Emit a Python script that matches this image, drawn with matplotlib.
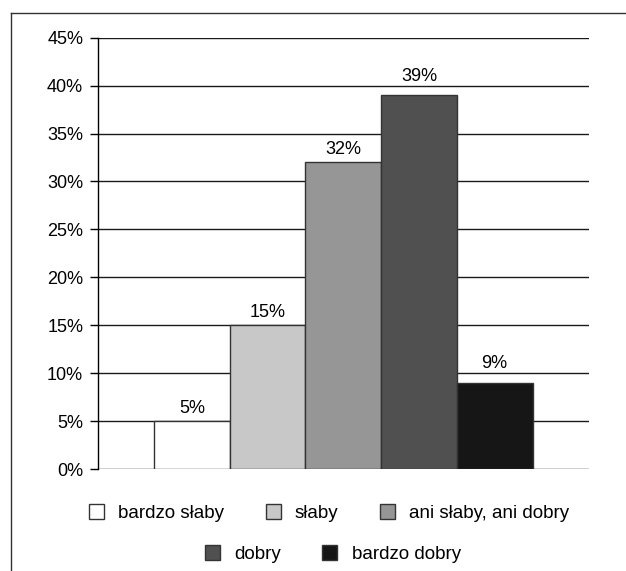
import matplotlib.pyplot as plt
from matplotlib.lines import Line2D
from matplotlib.patches import Patch

plt.rcParams['font.family'] = ['Liberation Sans', 'DejaVu Sans']

categories = ['bardzo słaby', 'słaby', 'ani słaby, ani dobry', 'dobry', 'bardzo dobry']
values = [5, 15, 32, 39, 9]
colors = ['#ffffff', '#c8c8c8', '#969696', '#505050', '#161616']
yticks = [0, 5, 10, 15, 20, 25, 30, 35, 40, 45]

W, H = 626, 571
fig = plt.figure(figsize=(W / 100, H / 100), dpi=100)
ax = fig.add_axes([97.5 / W, 1 - 469 / H, (589 - 97.5) / W, (469 - 37.7) / H])

# gridlines sit behind the bars
for t in yticks:
    ax.axhline(t, color='#1a1a1a', lw=1.0, zorder=1)

pos = list(range(len(values)))
ax.bar(pos, values, width=1.0, align='edge', color=colors,
       edgecolor='#333333', linewidth=1.0, zorder=2)

# value labels just above each bar; lift a label over a gridline it would cross
for p, v in zip(pos, values):
    y = v + 0.42
    crossed = [t for t in yticks if y + 0.3 <= t <= y + 1.7]
    if crossed:
        y = crossed[0] + 0.1
    ax.text(p + 0.5, y, f'{v}%', ha='center', va='bottom', fontsize=13)

ax.set_xlim(-0.746, 5.746)
ax.set_ylim(0, 45)
ax.set_yticks(yticks)
ax.set_yticklabels([f'{t}%' for t in yticks], fontsize=13)
ax.set_xticks([])
for s in ['top', 'right', 'bottom']:
    ax.spines[s].set_visible(False)
ax.spines['left'].set_linewidth(1.0)
ax.tick_params(axis='y', length=5.8, width=1.0, pad=4.5)

handles = [Patch(facecolor=c, edgecolor='#333333', linewidth=1.0) for c in colors]
leg_kw = dict(frameon=False, fontsize=13.5, handlelength=0.8, handleheight=0.8,
              handletextpad=0.75, columnspacing=2.2, borderaxespad=0,
              borderpad=0)
fig.legend(handles[:3], categories[:3], ncol=3, loc='center',
           bbox_to_anchor=(329 / W, 1 - 513 / H), **leg_kw)
fig.legend(handles[3:], categories[3:], ncol=2, loc='center',
           bbox_to_anchor=(333 / W, 1 - 554 / H), **leg_kw)

# outer frame: top and left edges
fig.add_artist(Line2D([11 / W, 1], [1 - 13.3 / H, 1 - 13.3 / H],
                      transform=fig.transFigure, color='#333333', lw=1.0))
fig.add_artist(Line2D([11 / W, 11 / W], [0, 1 - 13.3 / H],
                      transform=fig.transFigure, color='#333333', lw=1.0))

fig.savefig('out.png', dpi=100)
